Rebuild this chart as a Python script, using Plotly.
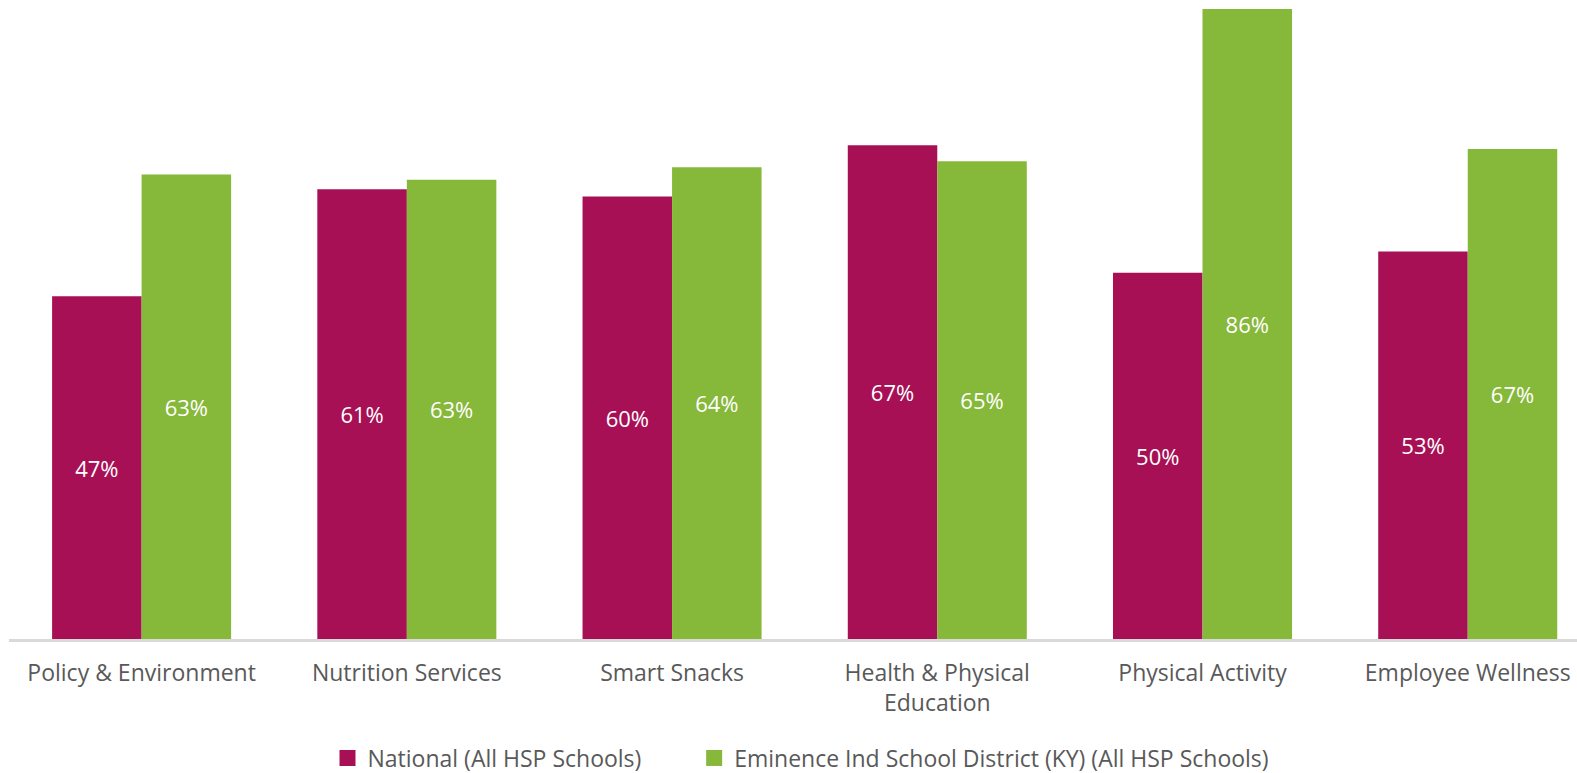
import plotly.graph_objects as go

categories = ["Policy & Environment", "Nutrition Services", "Smart Snacks",
              "Health & Physical<br>Education", "Physical Activity", "Employee Wellness"]
national = [46.8, 61.4, 60.4, 67.4, 50.0, 52.9]
eminence = [63.4, 62.7, 64.4, 65.2, 86.0, 66.9]
series_names = ["National (All HSP Schools)", "Eminence Ind School District (KY) (All HSP Schools)"]
colors = ["#A71055", "#86B83A"]

FONT = "Open Sans, Noto Sans, sans-serif"

fig = go.Figure()
for name, vals, col in zip(series_names, [national, eminence], colors):
    fig.add_trace(go.Bar(
        x=categories, y=vals, name=name, showlegend=False,
        marker=dict(color=col, line=dict(width=0)),
        texttemplate="%{y:.0f}%", textposition="inside", insidetextanchor="middle",
        textfont=dict(color="white", size=22, family=FONT),
        textangle=0,
    ))

# legend entries (square swatches)
legend_labels = [series_names[0] + "\u00a0" * 8, series_names[1]]
for name, col in zip(legend_labels, colors):
    fig.add_trace(go.Scatter(
        x=[None], y=[None], mode="markers", name=name,
        marker=dict(symbol="square", size=16, color=col),
    ))

fig.update_layout(
    width=1577, height=773,
    barmode="group", bargap=0.325, bargroupgap=0,
    margin=dict(l=9, r=0, t=9, b=134, autoexpand=False),
    plot_bgcolor="white", paper_bgcolor="white",
    font=dict(family=FONT, size=23, color="#595959"),
    showlegend=True,
    legend=dict(orientation="h", x=801 / 1577, xanchor="center", xref="container",
                y=1 - 758 / 773, yanchor="middle", yref="container",
                font=dict(size=23, color="#595959"), itemwidth=30, tracegroupgap=0),
    uniformtext=dict(mode=False),
)
fig.update_xaxes(showline=True, linecolor="#D9D9D9", linewidth=3, ticks="outside",
                 ticklen=11, tickcolor="rgba(0,0,0,0)", tickfont=dict(size=23, color="#595959"),
                 showgrid=False, automargin=False, range=[-0.5, 5.412])
fig.update_yaxes(range=[0, 86], visible=False, showgrid=False, zeroline=False, automargin=False)

fig.write_html("out.html", config={"displayModeBar": False},
               post_script="document.body.style.margin='0px';")
